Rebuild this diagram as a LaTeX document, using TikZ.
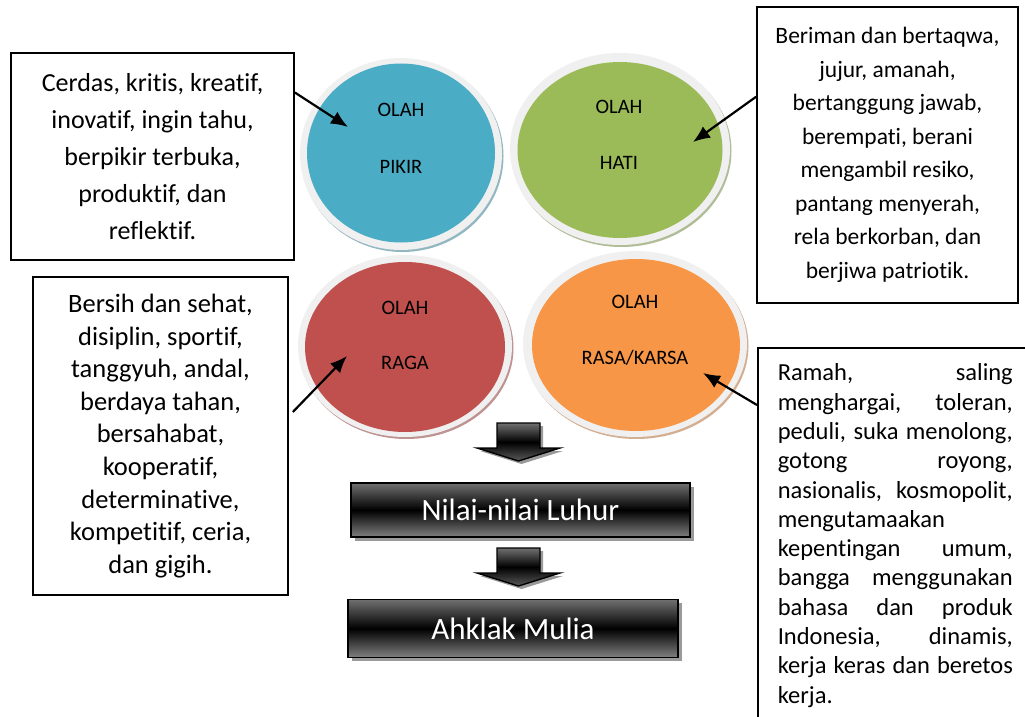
\documentclass[tikz,border=0pt]{standalone}
\usepackage{fontspec}
\setmainfont{Carlito}[Ligatures={NoCommon,NoRare,NoContextual}]
\usetikzlibrary{shapes.geometric,arrows.meta,calc}
\definecolor{cPikir}{HTML}{4BACC6}
\definecolor{cHati}{HTML}{9BBB59}
\definecolor{cRaga}{HTML}{C0504D}
\definecolor{cRasa}{HTML}{F79646}
\definecolor{rimgray}{HTML}{F0F0F0}
\definecolor{topgray}{HTML}{707070}
\definecolor{botgray}{HTML}{808080}
\definecolor{shadowgray}{HTML}{9A9A9A}
\begin{document}
\begin{tikzpicture}[x=1pt,y=-1pt,
  textbox/.style={draw=black, line width=1.6pt, align=center, inner sep=0pt},
  oval/.style={ellipse, inner sep=0pt},
  lbl/.style={inner sep=0pt, font=\fontsize{20.5}{24}\selectfont},
  conn/.style={line width=2.2pt, -{Latex[length=17pt,width=14pt]}},
  darkbox/.style={draw=black, line width=1.8pt, inner sep=0pt, text=white,
    top color=topgray, bottom color=botgray, middle color=black,
    font=\fontsize{31}{36}\selectfont},
  darkshadow/.style={fill=shadowgray, inner sep=0pt},
  blockarrow/.style={draw=black, line width=1.4pt, line join=miter,
    top color=topgray, bottom color=botgray!70!black, middle color=black},
  arrowshadow/.style={fill=shadowgray}
]
\useasboundingbox (0,0) rectangle (1025,717);
\clip (0,0) rectangle (1025,717);
\fill[white] (0,0) rectangle (1025,717);

% ---- ovals ----
% PIKIR
\node[oval, fill=cPikir!55!gray!70, minimum width=202pt, minimum height=192pt] (pikirS) at (402.5,156) {};
\node[oval, fill=rimgray, minimum width=202pt, minimum height=192pt] (pikirR) at (401,154) {};
\node[oval, fill=cPikir, minimum width=188pt, minimum height=179pt] (pikir) at (401,153) {};
\node[lbl] (pikirA) at (401,110) {OLAH};
\node[lbl] (pikirB) at (401,167) {PIKIR};
% HATI
\node[oval, fill=cHati!55!gray!70, minimum width=220pt, minimum height=192pt] (hatiS) at (621.5,151) {};
\node[oval, fill=rimgray, minimum width=220pt, minimum height=192pt] (hatiR) at (620,149) {};
\node[oval, fill=cHati, minimum width=205pt, minimum height=176pt] (hati) at (620,150) {};
\node[lbl] (hatiA) at (619,107) {OLAH};
\node[lbl] (hatiB) at (619,163) {HATI};
% RAGA
\node[oval, fill=cRaga!55!gray!70, minimum width=214pt, minimum height=182pt] (ragaS) at (406.5,348) {};
\node[oval, fill=rimgray, minimum width=214pt, minimum height=182pt] (ragaR) at (405,346) {};
\node[oval, fill=cRaga, minimum width=200pt, minimum height=170pt] (raga) at (405,347) {};
\node[lbl] (ragaA) at (405,308) {OLAH};
\node[lbl] (ragaB) at (405,363) {RAGA};
% RASA/KARSA
\node[oval, fill=cRasa!55!gray!70, minimum width=224pt, minimum height=186pt] (rasaS) at (636.5,346) {};
\node[oval, fill=rimgray, minimum width=224pt, minimum height=186pt] (rasaR) at (635,344) {};
\node[oval, fill=cRasa, minimum width=208pt, minimum height=172pt] (rasa) at (636,345) {};
\node[lbl] (rasaA) at (635,302) {OLAH};
\node[lbl] (rasaB) at (635,358) {RASA/KARSA};

% ---- text boxes ----
\node[textbox, minimum width=283pt, minimum height=207pt,
  font=\fontsize{26}{37}\selectfont] (box1) at (152.5,156.5)
  {Cerdas, kritis, kreatif,\\inovatif, ingin tahu,\\berpikir terbuka,\\produktif, dan\\reflektif.};
\node[textbox, minimum width=261pt, minimum height=296pt,
  font=\fontsize{23.5}{33.5}\selectfont] (box2) at (887.5,155)
  {Beriman dan bertaqwa,\\jujur, amanah,\\bertanggung jawab,\\berempati, berani\\mengambil resiko,\\pantang menyerah,\\rela berkorban, dan\\berjiwa patriotik.};
\node[textbox, minimum width=255pt, minimum height=318pt,
  font=\fontsize{26.5}{32.6}\selectfont] (box3) at (160.5,436)
  {Bersih dan sehat,\\disiplin, sportif,\\tanggyuh, andal,\\berdaya tahan,\\bersahabat,\\kooperatif,\\determinative,\\kompetitif, ceria,\\dan gigih.};
\node[draw=black, line width=1.6pt, anchor=north west, inner xsep=20pt, inner ysep=16pt,
  align=left] (box4) at (757,347)
  {\parbox{235pt}{\fontsize{24.5}{29.3}\selectfont
   \makebox[235pt][s]{Ramah, saling}\\
   \makebox[235pt][s]{menghargai, toleran,}\\
   \makebox[235pt][s]{peduli, suka menolong,}\\
   \makebox[235pt][s]{gotong royong,}\\
   \makebox[235pt][s]{nasionalis, kosmopolit,}\\
   mengutamaakan\\
   \makebox[235pt][s]{kepentingan umum,}\\
   \makebox[235pt][s]{bangga menggunakan}\\
   \makebox[235pt][s]{bahasa dan produk}\\
   \makebox[235pt][s]{Indonesia, dinamis,}\\
   \makebox[235pt][s]{kerja keras dan beretos}\\
   kerja.}};

% ---- connectors ----
\draw[conn] ($(box1.north east)!0.193!(box1.south east)$) -- ($(pikir.center)+(-53,-26)$);
\draw[conn] ($(box2.north west)!0.304!(box2.south west)$) -- ($(hati.center)+(73,-8)$);
\draw[conn] ($(box3.north east)!0.425!(box3.south east)+(4,0)$) -- ($(raga.center)+(-58,9)$);
\draw[conn] ($(box4.north west)+(0,58)$) -- ($(rasa.center)+(67,28)$);

% ---- block arrows ----
\coordinate (ba1) at (518.5,423);
\coordinate (ba2) at (518.5,548);
\foreach \c in {ba1,ba2}{
  \fill[arrowshadow] ($(\c)+(-18.5,3)$) -- ++(43,0) -- ++(0,25) -- ++(20,0) -- ++(-41.5,13) -- ++(-41.5,-13) -- ++(20,0) -- cycle;
  \path[blockarrow] ($(\c)+(-21.5,0)$) -- ++(43,0) -- ++(0,25) -- ++(20,0) -- ++(-41.5,13) -- ++(-41.5,-13) -- ++(20,0) -- cycle;
}

% ---- dark boxes ----
\node[darkshadow, minimum width=339pt, minimum height=54pt] (nilaiS) at (524.5,514) {};
\node[darkbox, minimum width=339pt, minimum height=54pt] (nilai) at (520.5,510) {Nilai-nilai Luhur};
\node[darkshadow, minimum width=330pt, minimum height=58pt] (ahklakS) at (517,632) {};
\node[darkbox, minimum width=330pt, minimum height=58pt] (ahklak) at (513,628.5) {Ahklak Mulia};
\end{tikzpicture}
\end{document}
